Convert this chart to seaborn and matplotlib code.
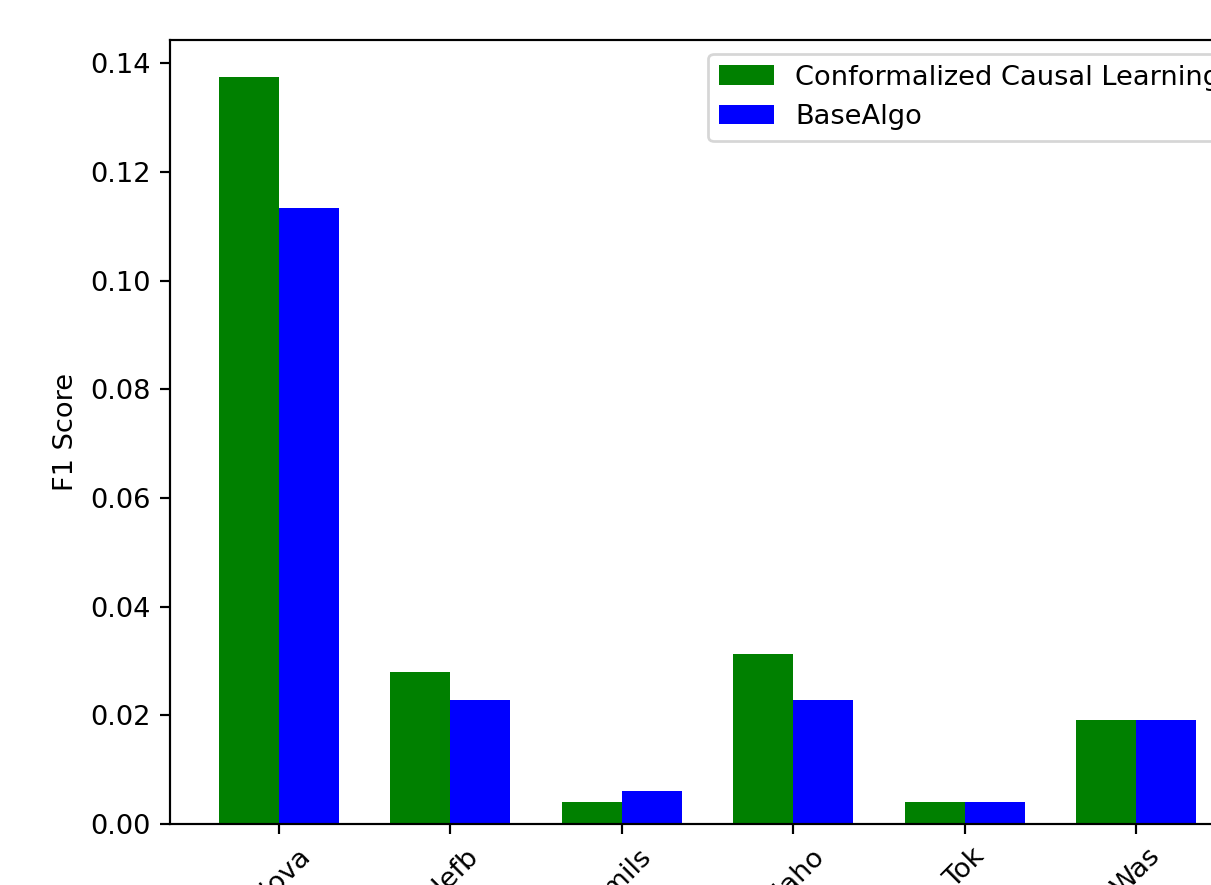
import numpy as np
import pandas as pd
import matplotlib
matplotlib.use("Agg")
import matplotlib.pyplot as plt
import seaborn as sns

# data
regions = ["Giova", "Idefb", "Emils", "Idaho", "Tok", "Was"]
ccl_f1 = [0.1374, 0.0279, 0.0040, 0.0312, 0.0040, 0.0191]
base_f1 = [0.1134, 0.0229, 0.0061, 0.0229, 0.0040, 0.0191]
methods = ["Conformalized Causal Learning", "BaseAlgo"]

df = pd.DataFrame({
    "region": regions * 2,
    "f1": ccl_f1 + base_f1,
    "method": [methods[0]] * len(regions) + [methods[1]] * len(regions),
})

#================================================
# Figure
#================================================
DPI = 196
fig = plt.figure(figsize=(1211 / DPI, 885 / DPI), dpi=DPI)
ax = fig.add_axes([0.1404, 0.0689, 0.8877, 0.8859])

sns.barplot(data=df, x="region", y="f1", hue="method", hue_order=methods,
            palette=["green", "blue"], width=0.7, saturation=1,
            errorbar=None, linewidth=0, ax=ax)

ax.set_xlim(-0.635, len(regions) - 1 + 0.635)
ax.set_xlabel("")
ax.set_ylabel("F1 Score")
ax.tick_params(axis="x", rotation=45)

handles, labels = ax.get_legend_handles_labels()
ax.legend(handles, labels, loc="upper right")

fig.savefig("out.png", dpi=DPI)
